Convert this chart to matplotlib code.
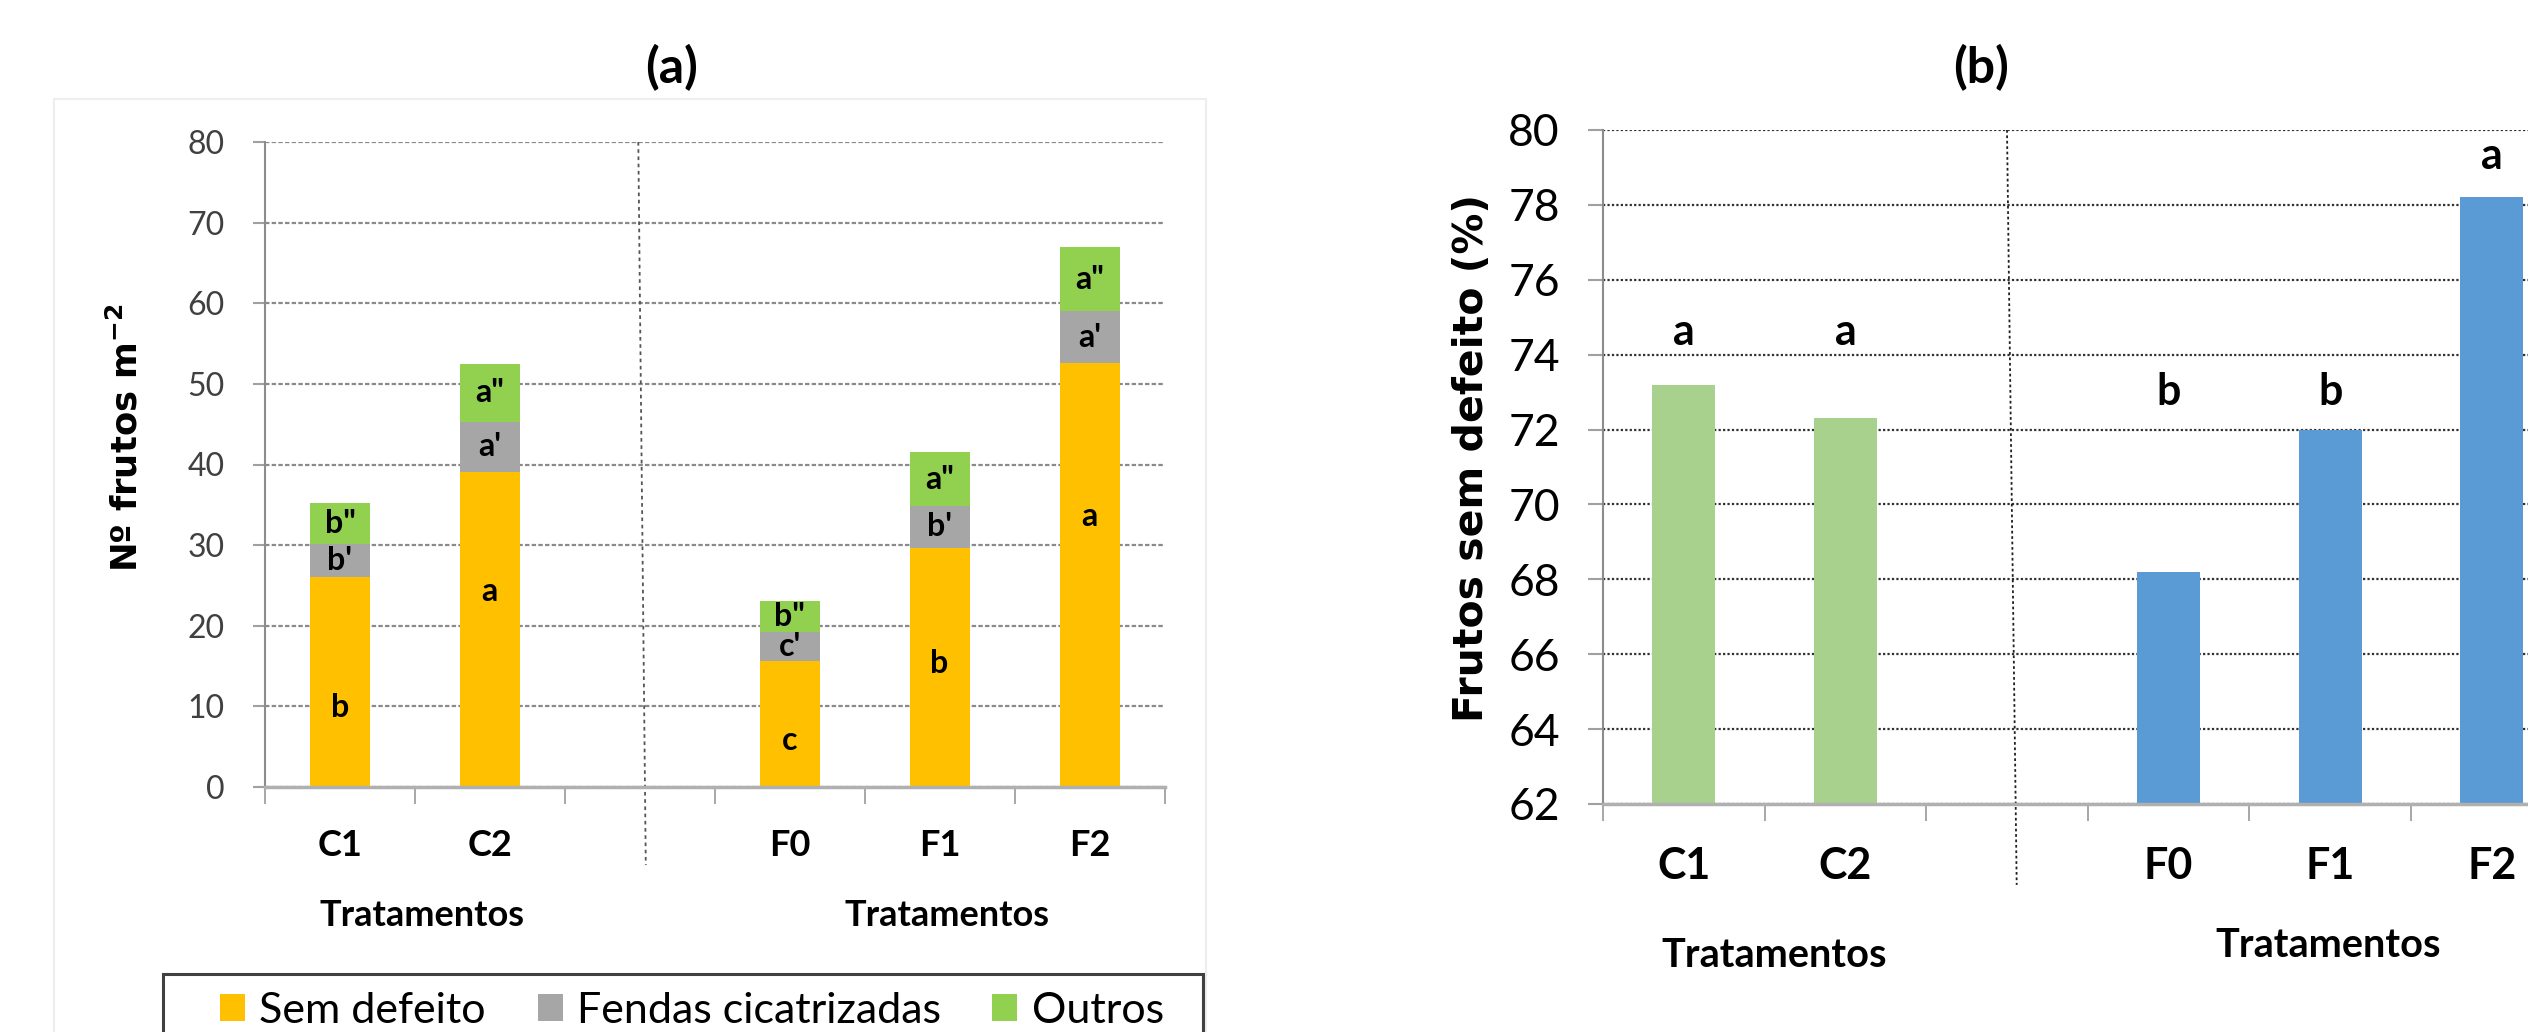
import matplotlib
matplotlib.use("Agg")
import matplotlib.pyplot as plt
from matplotlib.patches import Rectangle, Patch

# ---- data ----
treatments = ['C1', 'C2', 'F0', 'F1', 'F2']
slots = [0, 1, 3, 4, 5]          # slot 2 is the empty gap between groups

sem_defeito = [26.1, 39.1, 15.6, 29.7, 52.6]
fendas = [4.0, 6.2, 3.6, 5.1, 6.4]
outros = [5.1, 7.2, 3.9, 6.7, 8.0]

sem_letters = ['b', 'a', 'c', 'b', 'a']
sem_letter_y = [9.9, 24.2, 5.8, 15.3, 33.6]
fendas_letters = ["b'", "a'", "c'", "b'", "a'"]
outros_letters = ['b"', 'a"', 'b"', 'a"', 'a"']

pct_sem_defeito = [73.2, 72.3, 68.2, 72.0, 78.2]
pct_letters = ['a', 'a', 'b', 'b', 'a']
pct_letter_y = [74.6, 74.6, 73.0, 73.0, 79.3]

legend_labels = ['Sem defeito', 'Fendas cicatrizadas', 'Outros']
c_sem, c_fen, c_out = '#FFC000', '#A6A6A6', '#92D050'
c_grp1, c_grp2 = '#A9D18E', '#5B9BD5'

plt.rcParams['font.family'] = ['Lato', 'DejaVu Sans']

W, H = 2528, 1032
fig = plt.figure(figsize=(W / 100, H / 100), dpi=100)


def fx(px):
    return px / W


def fy(py):
    return 1 - py / H


def setup_axis(ax, grid_color, grid_ls, tick_size, tick_color, ypad, ylen, cat_size, cat_pad):
    ax.set_xlim(-0.5, 5.5)
    for s in ['top', 'right']:
        ax.spines[s].set_visible(False)
    ax.spines['left'].set_color('#8c8c8c')
    ax.spines['left'].set_linewidth(1.5)
    ax.spines['bottom'].set_color('#b0b0b0')
    ax.spines['bottom'].set_linewidth(2.5)
    ax.yaxis.grid(True, color=grid_color, linestyle=grid_ls, linewidth=1.6)
    ax.set_axisbelow(True)
    ax.tick_params(axis='y', labelsize=tick_size, labelcolor=tick_color,
                   color='#a0a0a0', length=ylen, width=1.5, pad=ypad)
    ax.set_xticks([i - 0.5 for i in range(7)])
    ax.set_xticklabels([''] * 7)
    ax.tick_params(axis='x', which='major', direction='out', length=12, width=1.3, color='#a0a0a0')
    ax.set_xticks(slots, minor=True)
    ax.set_xticklabels(treatments, minor=True, fontsize=cat_size, fontweight='bold')
    ax.tick_params(axis='x', which='minor', length=0, pad=cat_pad)


# ---------- panel (a) ----------
axa = fig.add_axes([fx(265), fy(787), fx(1164.5 - 265), (787 - 142) / H])
bottom2 = [a + b for a, b in zip(sem_defeito, fendas)]
axa.bar(slots, sem_defeito, width=0.4, color=c_sem, label=legend_labels[0])
axa.bar(slots, fendas, width=0.4, bottom=sem_defeito, color=c_fen, label=legend_labels[1])
axa.bar(slots, outros, width=0.4, bottom=bottom2, color=c_out, label=legend_labels[2])
axa.set_ylim(0, 80)
axa.set_yticks(range(0, 81, 10))
setup_axis(axa, '#8a8a8a', (0, (2, 1)), 23, '#404040', 20, 9, 26, 30)

for i, x in enumerate(slots):
    axa.text(x, sem_letter_y[i], sem_letters[i], ha='center', va='center', fontsize=23, fontweight='bold')
    axa.text(x, sem_defeito[i] + fendas[i] / 2, fendas_letters[i], ha='center', va='center',
             fontsize=23, fontweight='bold')
    axa.text(x, bottom2[i] + outros[i] / 2, outros_letters[i], ha='center', va='center',
             fontsize=23, fontweight='bold')

axa.plot([1.99, 2.04], [1, -0.121], transform=axa.get_xaxis_transform(), color='#555555',
         linestyle=(0, (2, 2)), linewidth=1.3, clip_on=False)
axa.text(0.55, -0.200, 'Tratamentos', transform=axa.get_xaxis_transform(), ha='center', va='center',
         fontsize=26, fontweight='bold')
axa.text(4.05, -0.200, 'Tratamentos', transform=axa.get_xaxis_transform(), ha='center', va='center',
         fontsize=26, fontweight='bold')

fig.text(fx(126), fy(438), 'Nº frutos m$^{\\mathbf{-2}}$', rotation=90, ha='center', va='center',
         fontsize=25.5, fontweight='bold', family='DejaVu Sans')
fig.text(fx(672), fy(68), '(a)', ha='center', va='center', fontsize=36, fontweight='bold')

# ---------- panel (b) ----------
slot_w = 161.6
axb = fig.add_axes([fx(1603), fy(804), fx(6 * slot_w), (804 - 130) / H])
axb.bar(slots[:2], pct_sem_defeito[:2], width=0.39, color=c_grp1)
axb.bar(slots[2:], pct_sem_defeito[2:], width=0.39, color=c_grp2)
axb.set_ylim(62, 80)
axb.set_yticks(range(62, 81, 2))
setup_axis(axb, '#303030', (0, (1, 1)), 32, 'black', 20, 11, 31, 30)

for i, x in enumerate(slots):
    axb.text(x, pct_letter_y[i], pct_letters[i], ha='center', va='center', fontsize=31, fontweight='bold')

axb.plot([2.0, 2.06], [1, -0.12], transform=axb.get_xaxis_transform(), color='#202020',
         linestyle=(0, (1.5, 1.5)), linewidth=1.3, clip_on=False)
axb.text(0.56, -0.225, 'Tratamentos', transform=axb.get_xaxis_transform(), ha='center', va='center',
         fontsize=28.5, fontweight='bold')
axb.text(3.99, -0.21, 'Tratamentos', transform=axb.get_xaxis_transform(), ha='center', va='center',
         fontsize=28.5, fontweight='bold')

fig.text(fx(1472), fy(458), 'Frutos sem defeito (%)', rotation=90, ha='center', va='center',
         fontsize=29.5, fontweight='bold', family='DejaVu Sans')
fig.text(fx(1981), fy(68), '(b)', ha='center', va='center', fontsize=36, fontweight='bold')

# ---------- chart frame and legend of panel (a) ----------
fig.add_artist(Rectangle((fx(54), -0.05), fx(1206 - 54), (H - 99) / H + 0.05,
                         transform=fig.transFigure, fill=False, edgecolor='#eeeeee', linewidth=1.5))
fig.add_artist(Rectangle((fx(163), -0.05), fx(1203 - 163), (H - 974) / H + 0.05,
                         transform=fig.transFigure, fill=False, edgecolor='#404040', linewidth=2.2))
handles = [Patch(facecolor=c) for c in (c_sem, c_fen, c_out)]
fig.legend(handles, legend_labels, loc='center', bbox_to_anchor=(fx(692), fy(1011)), ncol=3,
           frameon=False, fontsize=31, handlelength=0.58, handleheight=0.58,
           handletextpad=0.33, columnspacing=1.2, borderpad=0, borderaxespad=0)

fig.savefig('out.png', dpi=100, facecolor='white')
